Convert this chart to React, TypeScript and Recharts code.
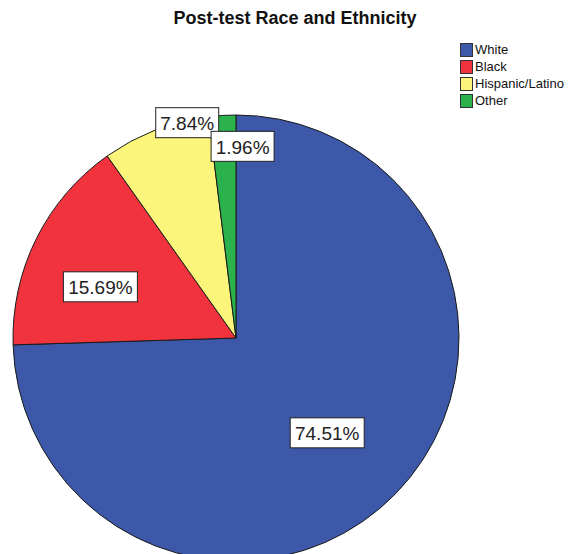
import React from 'react';
import { PieChart, Pie, Cell, Legend } from 'recharts';

// Post-test race/ethnicity breakdown (percent of respondents)
const categories = ['White', 'Black', 'Hispanic/Latino', 'Other'];
const percents = [74.51, 15.69, 7.84, 1.96];
const sliceColors = ['#3d58a9', '#f0333d', '#fbf57b', '#2bb24c'];

// per-slice label placement: radius fraction and angle nudge (degrees)
const labelPlacement = [
  { r: 0.59, da: -2 },
  { r: 0.65, da: 5.8 },
  { r: 0.99, da: -8.4 },
  { r: 0.86, da: -5.5 },
];

const data = categories.map((name, i) => ({ name, value: percents[i] }));

const FONT = '"Liberation Sans", Arial, sans-serif';
const RAD = Math.PI / 180;

const renderLabel = (props: any) => {
  const { cx, cy, midAngle, outerRadius, index, value } = props;
  const p = labelPlacement[index];
  const a = (midAngle + p.da) * RAD;
  const r = outerRadius * p.r;
  const x = cx + r * Math.cos(a);
  const y = cy - r * Math.sin(a);
  const text = `${value.toFixed(2)}%`;
  const w = text.length * 11 + 8;
  const h = 30;
  return (
    <g key={`lbl-${index}`}>
      <rect x={x - w / 2} y={y - h / 2} width={w} height={h} fill="#ffffff" stroke="#222" strokeWidth={1} />
      <text
        x={x}
        y={y + 1}
        textAnchor="middle"
        dominantBaseline="central"
        fontFamily={FONT}
        fontSize={19}
        fill="#222"
      >
        {text}
      </text>
    </g>
  );
};

const renderLegend = () => (
  <div style={{ fontFamily: FONT, fontSize: 13, color: '#111' }}>
    {categories.map((c, i) => (
      <div key={c} style={{ display: 'flex', alignItems: 'center', height: 17 }}>
        <span
          style={{
            display: 'inline-block',
            width: 11,
            height: 12,
            background: sliceColors[i],
            border: '1px solid #333',
            marginRight: 2,
          }}
        />
        <span>{c}</span>
      </div>
    ))}
  </div>
);

export default function App() {
  return (
    <div style={{ position: 'absolute', left: 0, top: 0, width: 573, height: 554, background: '#fff', overflow: 'hidden' }}>
      <div
        style={{
          position: 'absolute',
          left: 0,
          top: 8,
          width: 590,
          textAlign: 'center',
          fontFamily: FONT,
          fontWeight: 'bold',
          fontSize: 18,
          color: '#111',
          zIndex: 2,
        }}
      >
        Post-test Race and Ethnicity
      </div>
      <PieChart width={573} height={554} margin={{ top: 0, right: 0, bottom: 0, left: 0 }}>
        <Pie
          data={data}
          dataKey="value"
          nameKey="name"
          cx={236}
          cy={338}
          outerRadius={223}
          startAngle={90}
          endAngle={-270}
          stroke="#1a1a1a"
          strokeWidth={1}
          label={renderLabel}
          labelLine={false}
          isAnimationActive={false}
        >
          {data.map((d, i) => (
            <Cell key={d.name} fill={sliceColors[i]} />
          ))}
        </Pie>
        <Legend
          content={renderLegend}
          layout="vertical"
          verticalAlign="top"
          align="right"
          wrapperStyle={{ position: 'absolute', top: 41, left: 460, width: 113 }}
        />
      </PieChart>
    </div>
  );
}
